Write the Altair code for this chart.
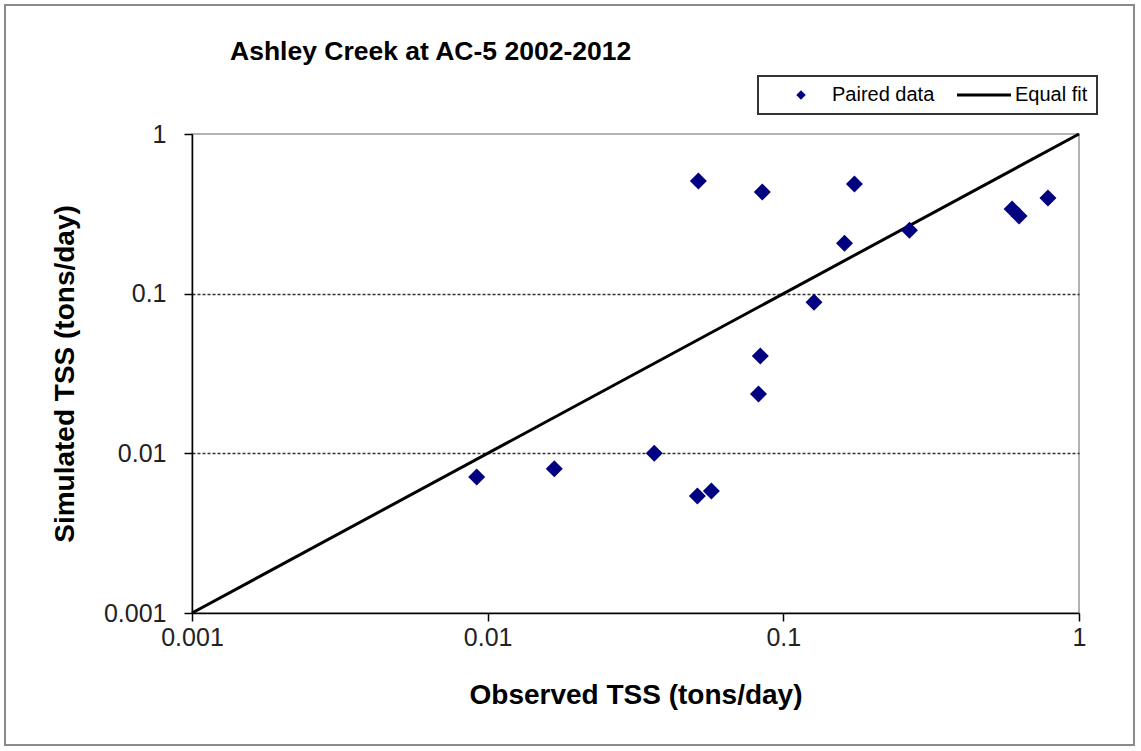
import altair as alt
import pandas as pd

# ---- data ----
observed = [0.00918, 0.0168, 0.0366, 0.0512, 0.0571, 0.0516, 0.0849, 0.0836,
            0.0824, 0.127, 0.161, 0.174, 0.267, 0.594, 0.627, 0.785]
simulated = [0.0071, 0.0080, 0.0100, 0.0054, 0.0058, 0.507, 0.433, 0.0407,
             0.0235, 0.0885, 0.207, 0.486, 0.250, 0.339, 0.306, 0.397]
fit_x = [0.001, 1.0]
fit_y = [0.001, 1.0]
series = ["Paired data", "Equal fit"]
tick_values = [0.001, 0.01, 0.1, 1]
chart_title = "Ashley Creek at AC-5 2002-2012"
x_title = "Observed TSS (tons/day)"
y_title = "Simulated TSS (tons/day)"

pts_df = pd.DataFrame({"obs": observed, "sim": simulated})
fit_df = pd.DataFrame({"obs": fit_x, "sim": fit_y})
leg_df = pd.DataFrame({"series": series})

FONT = "Liberation Sans"
xs = alt.Scale(type="log", domain=[0.001, 1])
ys = alt.Scale(type="log", domain=[0.001, 1])

common_axis = dict(
    values=tick_values, format="~g", domainColor="black", domainWidth=1.5,
    tickColor="black", tickWidth=1.5, tickSize=8, labelFontSize=25, labelFont=FONT,
    labelColor="#222", labelOverlap=False, labelFlush=False, labelBound=False,
    titleFont=FONT, titleFontSize=28, titleFontWeight="bold", titleColor="black",
)
xaxis = alt.Axis(title=x_title, grid=False, labelPadding=4, titlePadding=31, **common_axis)
yaxis = alt.Axis(
    title=y_title, grid=True, gridDash=[3, 2], gridColor="#333", gridWidth=1.5,
    gridOpacity={"condition": {"test": "datum.value >= 0.5 || datum.value <= 0.002", "value": 0}, "value": 1},
    labelPadding=18, titlePadding=24, **common_axis,
)

frame = alt.Chart(pd.DataFrame({"a": [0]})).mark_rect(
    fill="transparent", stroke="#8a8a8a", strokeWidth=2
).encode(x=alt.value(-187), x2=alt.value(942), y=alt.value(-129), y2=alt.value(611))

title = alt.Chart(pd.DataFrame({"t": [chart_title]})).mark_text(
    align="left", baseline="alphabetic", font=FONT, fontSize=26.5, fontWeight="bold", color="black"
).encode(x=alt.value(38), y=alt.value(-74), text="t:N")

fit = alt.Chart(fit_df).mark_line(color="black", strokeWidth=3).encode(
    x=alt.X("obs:Q", scale=xs, axis=xaxis),
    y=alt.Y("sim:Q", scale=ys, axis=yaxis),
)

points = alt.Chart(pts_df).mark_point(
    filled=True, shape="diamond", size=289, color="#000080", opacity=1
).encode(
    x=alt.X("obs:Q", scale=xs, axis=xaxis),
    y=alt.Y("sim:Q", scale=ys, axis=yaxis),
)

diamond_path = "M2.667,-0.53L3.197,0L2.667,0.53L2.137,0Z"
line_path = "M-0.333,-0.167L5.667,-0.167L5.667,0.167L-0.333,0.167Z"

leg = alt.Legend(
    title=None, orient="none", legendX=566, legendY=-58, direction="horizontal",
    symbolSize=324, symbolStrokeWidth=0, symbolOpacity=1,
    labelFont=FONT, labelFontSize=20, labelColor="black", labelOffset=45,
    columnPadding=15, padding=9, strokeColor="#333",
)
legend_layer = alt.Chart(leg_df).mark_point(filled=True, opacity=0).encode(
    color=alt.Color("series:N", scale=alt.Scale(domain=series, range=["#000080", "black"]), legend=leg),
    shape=alt.Shape("series:N", scale=alt.Scale(domain=series, range=[diamond_path, line_path]), legend=leg),
)

chart = alt.layer(frame, title, fit, points, legend_layer).properties(
    width=887, height=479,
    padding={"left": 192, "top": 134, "right": 62, "bottom": 138},
    autosize=alt.AutoSizeParams(type="none"),
    background="white",
).configure_view(
    stroke="#999", strokeWidth=1.5
).configure_legend(
    strokeWidth=2
)

chart.save("out.html", embed_options={"renderer": "svg", "actions": False})
